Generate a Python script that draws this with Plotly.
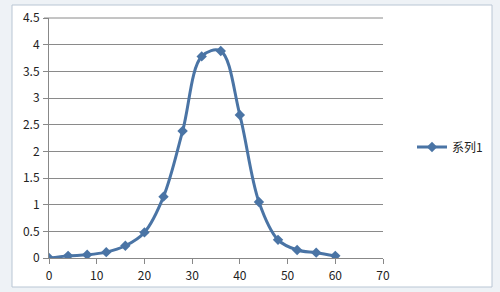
import plotly.graph_objects as go

x_vals = [0, 4, 8, 12, 16, 20, 24, 28, 32, 36, 40, 44, 48, 52, 56, 60]
y_vals = [0, 0.04, 0.06, 0.11, 0.23, 0.48, 1.15, 2.38, 3.78, 3.88, 2.68, 1.05, 0.34, 0.15, 0.10, 0.04]
series_name = "系列1"

L, R, T, B = 49, 383, 18, 258
W, H = 500, 292
pw, ph = R - L, B - T

def px(x):
    return (x - L) / pw

def py(y):
    return (B - y) / ph

fig = go.Figure()
fig.add_trace(go.Scatter(
    x=x_vals, y=y_vals, name=series_name, mode="lines+markers",
    line=dict(color="#4a74a5", width=3, shape="spline", smoothing=1.0),
    marker=dict(symbol="diamond", size=8, color="#4a74a5"),
))

fig.update_layout(
    width=W, height=H,
    margin=dict(l=L, r=W - R, t=T, b=H - B, autoexpand=False),
    paper_bgcolor="#eef2f6",
    plot_bgcolor="rgba(0,0,0,0)",
    font=dict(family="Noto Sans CJK SC, DejaVu Sans, sans-serif", size=12, color="#222"),
    showlegend=True,
    legend=dict(x=px(412), y=py(147), xanchor="left", yanchor="middle",
                bgcolor="rgba(0,0,0,0)", font=dict(size=12, color="#222")),
    xaxis=dict(range=[0, 70], dtick=10, tick0=0, showgrid=False, zeroline=False,
               showline=True, linecolor="#888", linewidth=1, automargin=False,
               ticks="outside", ticklen=5, tickcolor="#888", ticklabelstandoff=2),
    yaxis=dict(range=[0, 4.5], dtick=0.5, tick0=0, showgrid=True, gridcolor="#8a8a8a",
               gridwidth=1, zeroline=False, showline=True, linecolor="#888", linewidth=1,
               automargin=False,
               ticks="outside", ticklen=5, tickcolor="#888", ticklabelstandoff=1),
    shapes=[
        dict(type="rect", xref="paper", yref="paper", layer="below",
             x0=px(12), x1=px(492), y0=py(287), y1=py(5),
             fillcolor="white", line=dict(color="#b9c6d4", width=1)),
        dict(type="line", xref="paper", yref="paper", layer="below",
             x0=-5 / pw, x1=1, y0=1, y1=1, line=dict(color="#8a8a8a", width=1)),
    ],
)

fig.write_html("out.html")
